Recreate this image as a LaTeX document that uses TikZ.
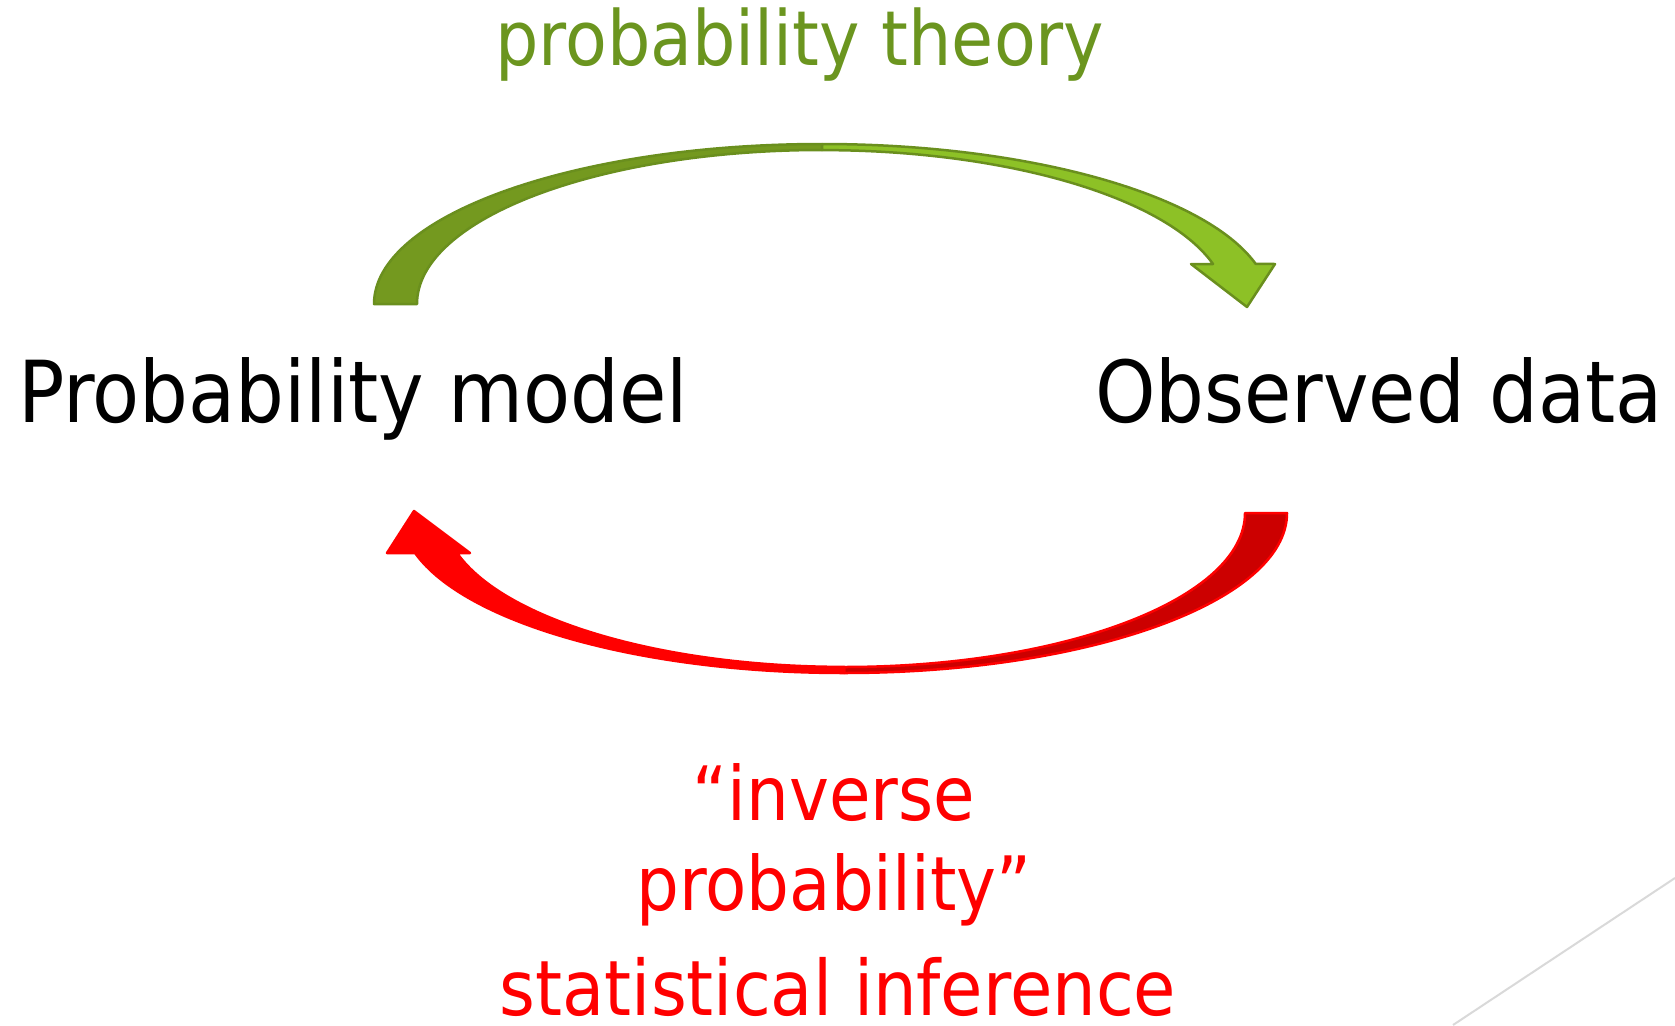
\documentclass[tikz,border=0pt]{standalone}
\usepackage{fontspec}
\setmainfont{DejaVu Sans Condensed}
\usepackage{tikz}
\definecolor{grtext}{HTML}{6B951F}
\definecolor{grdark}{HTML}{74991F}
\definecolor{grlight}{HTML}{8DC126}
\definecolor{grline}{HTML}{6A8F1E}
\definecolor{rddark}{HTML}{CC0000}
\definecolor{rdlight}{HTML}{FF0000}
\definecolor{faint}{HTML}{D9D9D9}
\tikzset{
  bigtxt/.style={font=\fontsize{85.5}{96}\selectfont,anchor=base west,inner sep=0pt},
  gtxt/.style={font=\fontsize{76}{84}\selectfont,text=grtext,anchor=base,inner sep=0pt},
  rtxt/.style={font=\fontsize{75}{84}\selectfont,text=rdlight,anchor=base,inner sep=0pt},
  gband/.style={draw=grline,line width=2.5pt,line join=round},
  rband/.style={draw=rdlight,line width=2.5pt,line join=round},
}

\begin{document}
\begin{tikzpicture}[x=1pt,y=-1pt]
\useasboundingbox (0,0) rectangle (1675,1025);
% labels
\node[gtxt] (theory) at (800,66) {probability theory};
\node[bigtxt] (model) at (18,422) {Probability model};
\node[bigtxt,anchor=base east] (data) at (1663,422) {Observed data};
\node[rtxt] (inv) at (834,820) {“inverse};
\node[rtxt] (invb) at (834,910) {probability”};
\node[rtxt,font=\fontsize{76.5}{84}\selectfont] (infer) at (838,1015) {statistical inference};
% green arrow, model -> data
\draw[gband,fill=grdark] (374,304) arc[start angle=180,end angle=270,x radius=448,y radius=160]
  -- (822,150) arc[start angle=270,end angle=180,x radius=405,y radius=154] -- cycle;
\draw[gband,fill=grlight] (822,144) arc[start angle=270,end angle=345.5,x radius=448,y radius=160]
  -- (1275,264) -- (1247,307) -- (1191,264)
  -- (1213,264) arc[start angle=344.9,end angle=270,x radius=405,y radius=154] -- cycle;
% red arrow, data -> model
\draw[rband,fill=rddark] (1287,513) arc[start angle=0,end angle=90,x radius=443,y radius=160]
  -- (844,667) arc[start angle=90,end angle=0,x radius=401,y radius=154] -- cycle;
\draw[rband,fill=rdlight] (844,673) arc[start angle=90,end angle=165.5,x radius=443,y radius=160]
  -- (387,553) -- (414,511) -- (470,553)
  -- (457,553) arc[start angle=164.9,end angle=90,x radius=401,y radius=154] -- cycle;
% slide corner
\draw[faint,line width=2pt] (1453,1025) -- (1675,878);
\end{tikzpicture}
\end{document}
